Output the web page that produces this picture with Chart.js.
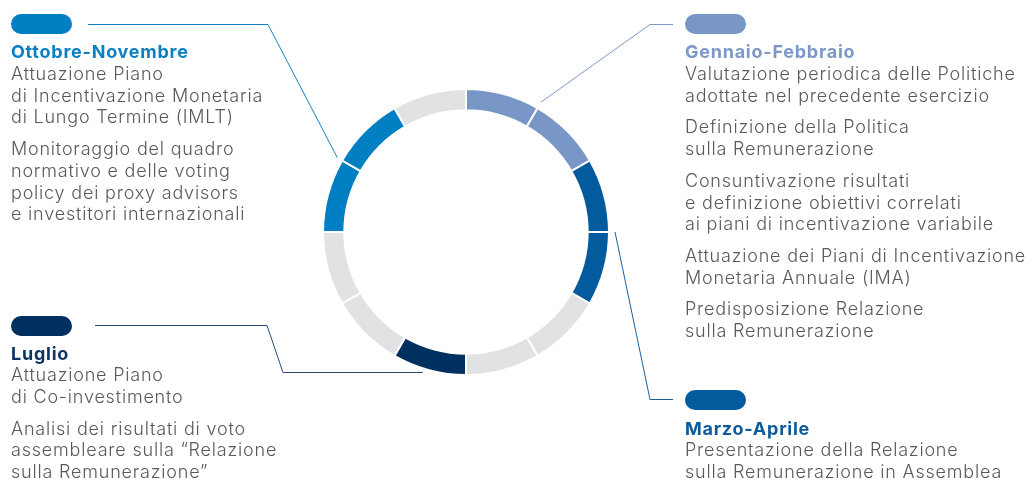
<!DOCTYPE html>
<html><head><meta charset="utf-8">
<script src="https://cdn.jsdelivr.net/npm/chart.js@4.4.1/dist/chart.umd.min.js"></script>
<style>
html,body{margin:0;padding:0;background:#fff;}
#wrap{position:relative;width:1036px;height:481px;overflow:hidden;}
#c{position:absolute;left:0;top:0;}
.blk{position:absolute;font-family:"Inter",sans-serif;font-weight:300;font-size:18px;line-height:21.7px;letter-spacing:0.8px;color:#58595b;white-space:nowrap;}
.blk p{margin:10px 0 0 0;}
.blk p:first-of-type{margin-top:0;}
.blk .t{font-weight:700;letter-spacing:0.75px;}
.pill{position:absolute;width:61px;height:20px;border-radius:10px;}
</style>
</head><body>
<div id="wrap">
<canvas id="c" width="1036" height="481"></canvas>

<div class="pill" style="left:11px;top:14px;background:#0080c3"></div>
<div class="blk" style="left:11px;top:41.3px">
<div class="t" style="color:#0a7fc2">Ottobre-Novembre</div>
<p>Attuazione Piano<br>di Incentivazione Monetaria<br>di Lungo Termine (IMLT)</p>
<p>Monitoraggio del quadro<br>normativo e delle voting<br>policy dei proxy advisors<br>e investitori internazionali</p>
</div>

<div class="pill" style="left:685px;top:14px;background:#7896c6"></div>
<div class="blk" style="left:685px;top:41.3px">
<div class="t" style="color:#7b98c8">Gennaio-Febbraio</div>
<p>Valutazione periodica delle Politiche<br>adottate nel precedente esercizio</p>
<p>Definizione della Politica<br>sulla Remunerazione</p>
<p>Consuntivazione risultati<br>e definizione obiettivi correlati<br>ai piani di incentivazione variabile</p>
<p>Attuazione dei Piani di Incentivazione<br>Monetaria Annuale (IMA)</p>
<p>Predisposizione Relazione<br>sulla Remunerazione</p>
</div>

<div class="pill" style="left:11px;top:316px;background:#00305f"></div>
<div class="blk" style="left:11px;top:342.6px">
<div class="t" style="color:#0d3563">Luglio</div>
<p>Attuazione Piano<br>di Co-investimento</p>
<p>Analisi dei risultati di voto<br>assembleare sulla “Relazione<br>sulla Remunerazione”</p>
</div>

<div class="pill" style="left:685px;top:390px;background:#035a9d"></div>
<div class="blk" style="left:685px;top:417.6px">
<div class="t" style="color:#0a5a9c">Marzo-Aprile</div>
<p>Presentazione della Relazione<br>sulla Remunerazione in Assemblea</p>
</div>
</div>

<script>
// ---- data ----
const months = ['Gennaio','Febbraio','Marzo','Aprile','Maggio','Giugno','Luglio','Agosto','Settembre','Ottobre','Novembre','Dicembre'];
const monthShare = [1,1,1,1,1,1,1,1,1,1,1,1];
const monthPhase = ['gen','gen','mar','mar','','','lug','','','ott','ott',''];

// ---- styles ----
const phaseColor = {gen:'#7896c6', mar:'#035a9d', lug:'#00305f', ott:'#0080c3', '':'#e1e2e4'};
const lineColor = {gen:'#7b98c8', mar:'#1a5f9c', lug:'#2a4a73', ott:'#1583c4'};

// connectors: anchor on the ring (arc index + fraction of its sweep), then elbow points
const connectors = [
  {phase:'gen', arc:1, frac:0,    dr:7,   path:[[650,24.5],[673,24.5]]},
  {phase:'mar', arc:3, frac:0,    dr:6,   path:[[650,399.5],[673,399.5]]},
  {phase:'ott', arc:10, frac:0,   dr:5.5, path:[[268,24.5],[88,24.5]]},
  {phase:'lug', arc:6, frac:0.57, dr:4,   path:[['h',283],[267,325.5],[95,325.5]]}
];

const connectorPlugin = {
  id:'connectors',
  afterDraw(chart){
    const ctx = chart.ctx;
    const arcs = chart.getDatasetMeta(0).data;
    ctx.save();
    ctx.lineWidth = 1;
    for(const c of connectors){
      const a = arcs[c.arc].getProps(['x','y','startAngle','endAngle','outerRadius'], true);
      const ang = a.startAngle + (a.endAngle - a.startAngle) * c.frac;
      const r = a.outerRadius + c.dr;
      const x0 = a.x + r*Math.cos(ang), y0 = a.y + r*Math.sin(ang);
      ctx.strokeStyle = lineColor[c.phase];
      ctx.beginPath();
      ctx.moveTo(x0, y0);
      for(const p of c.path){
        if(p[0]==='h') ctx.lineTo(p[1], y0); else ctx.lineTo(p[0], p[1]);
      }
      ctx.stroke();
    }
    ctx.restore();
  }
};

new Chart(document.getElementById('c'), {
  type:'doughnut',
  data:{
    labels: months,
    datasets:[{
      data: monthShare,
      backgroundColor: monthPhase.map(p=>phaseColor[p]),
      borderColor:'#ffffff',
      borderWidth:2,
      hoverOffset:0
    }]
  },
  options:{
    responsive:false,
    animation:false,
    devicePixelRatio:1,
    radius:143,
    cutout:120,
    rotation:0,
    layout:{padding:{left:324,right:428,top:90,bottom:107}},
    plugins:{legend:{display:false},tooltip:{enabled:false}},
    events:[]
  },
  plugins:[connectorPlugin]
});
</script>
</body></html>
